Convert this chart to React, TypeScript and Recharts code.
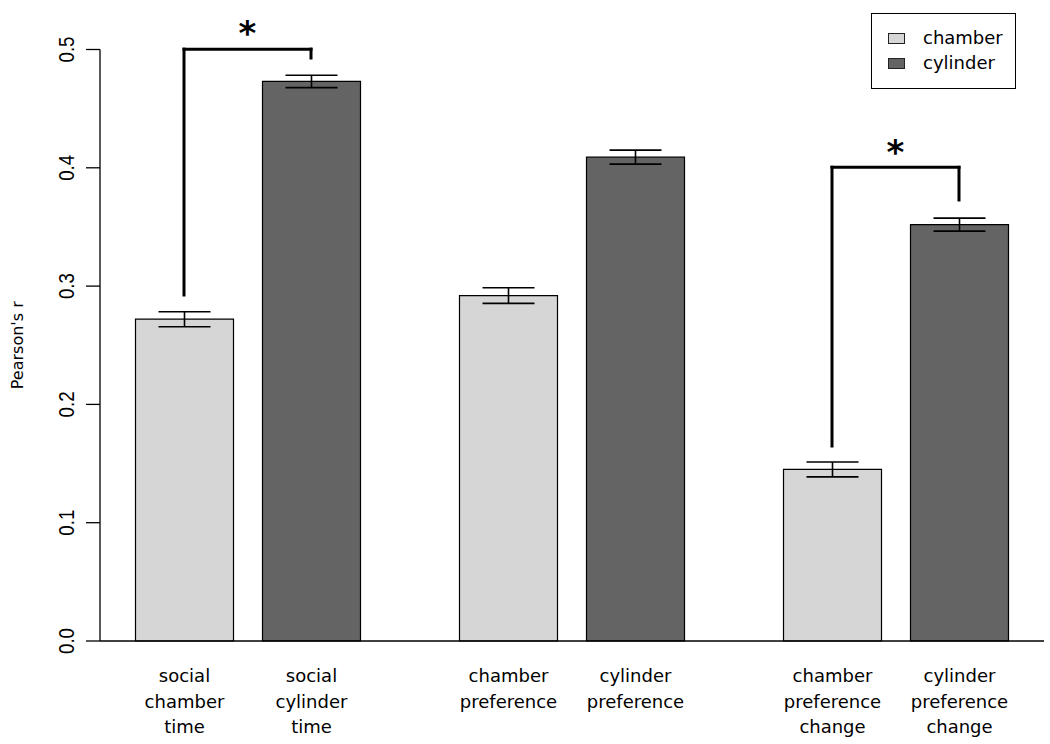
import React from 'react';
import {
  ComposedChart,
  Bar,
  XAxis,
  YAxis,
  ErrorBar,
  LabelList,
  ReferenceLine,
  ReferenceDot,
  Legend,
} from 'recharts';

// ---------- data ----------
const groups = ['social time', 'preference', 'preference change'];
const chamberValues = [0.272, 0.292, 0.145];
const cylinderValues = [0.473, 0.409, 0.352];
const chamberErrors = [0.0063, 0.0066, 0.0063];
const cylinderErrors = [0.0052, 0.0059, 0.0055];
const chamberLabels = ['social\nchamber\ntime', 'chamber\npreference', 'chamber\npreference\nchange'];
const cylinderLabels = ['social\ncylinder\ntime', 'cylinder\npreference', 'cylinder\npreference\nchange'];
const seriesNames = ['chamber', 'cylinder'];
const yTicks = [0, 0.1, 0.2, 0.3, 0.4, 0.5];
const yAxisLabel = "Pearson's r";

// significance brackets (values on the Pearson's r scale)
const bracketGroups = [0, 2];
const bracketLeftBottoms = [0.2925, 0.1648];
const bracketTops = [0.5003, 0.4004];
const bracketRightBottoms = [0.4928, 0.3728];
const starValues = [0.518, 0.4176];
const starLabels = ['*', '*'];

// ---------- style / layout ----------
const W = 1050;
const H = 744;
const MARGIN = { top: 49.5, right: 6, bottom: 0, left: 0 };
const Y_AXIS_W = 100;
const X_AXIS_H = 103;
const X_PAD = { left: -14.5, right: -13.5 };
const BAR_SIZE = 98;
const BAR_GAP = 29;
const CHAMBER_FILL = '#d6d6d6';
const CYLINDER_FILL = '#646464';
const FONT = "'DejaVu Sans', sans-serif";

const N = groups.length;
const PLOT_W = W - MARGIN.left - MARGIN.right - Y_AXIS_W;
const BAND = (PLOT_W - X_PAD.left - X_PAD.right) / N;
const GROUP_PAD = (BAND - (2 * BAR_SIZE + BAR_GAP)) / 2;
// position on a helper numeric axis whose domain is [0, N-1] spanning the same range
const barCenterUnit = (g: number, i: number) =>
  ((g + (GROUP_PAD + BAR_SIZE / 2 + i * (BAR_SIZE + BAR_GAP)) / BAND) * (N - 1)) / N;

const data = groups.map((g, k) => ({
  group: g,
  chamber: chamberValues[k],
  cylinder: cylinderValues[k],
  chamberErr: chamberErrors[k],
  cylinderErr: cylinderErrors[k],
  chamberLabel: chamberLabels[k],
  cylinderLabel: cylinderLabels[k],
}));

const BarLabel = (props: any) => {
  const vb = props.viewBox || props;
  const x = vb.x ?? props.x;
  const y = vb.y ?? props.y;
  const width = vb.width ?? props.width;
  const height = vb.height ?? props.height;
  const lines = String(props.value).split('\n');
  const cx = x + width / 2;
  const base = y + height + 41;
  return (
    <text x={cx} y={base} textAnchor="middle" fontFamily={FONT} fontSize={18} fill="#000">
      {lines.map((l, i) => (
        <tspan key={i} x={cx} y={base + i * 25.5}>
          {l}
        </tspan>
      ))}
    </text>
  );
};

const YTick = (props: any) => {
  const { x, y, payload } = props;
  const tx = x - 18;
  return (
    <text
      x={tx}
      y={y}
      transform={`rotate(-90, ${tx}, ${y})`}
      textAnchor="middle"
      dy="0.36em"
      fontFamily="'Liberation Sans', Arial, sans-serif"
      fontSize={22}
      textLength={26}
      lengthAdjust="spacingAndGlyphs"
      fill="#000"
    >
      {Number(payload.value).toFixed(1)}
    </text>
  );
};

const YLabel = (props: any) => {
  const vb = props.viewBox || { x: 0, y: 0, width: 0, height: 0 };
  const tx = vb.x + 17;
  const ty = vb.y + vb.height / 2;
  return (
    <text
      x={tx}
      y={ty}
      transform={`rotate(-90, ${tx}, ${ty})`}
      textAnchor="middle"
      dy="0.35em"
      fontFamily={FONT}
      fontSize={16}
      fill="#000"
    >
      {yAxisLabel}
    </text>
  );
};

const LegendBox = (props: any) => {
  const payload = (props.payload && props.payload.length ? props.payload : seriesNames.map((n, i) => ({
    value: n,
    color: i === 0 ? CHAMBER_FILL : CYLINDER_FILL,
  }))) as any[];
  return (
    <div
      style={{
        position: 'relative',
        width: 145,
        height: 76,
        border: '1px solid #000',
        boxSizing: 'border-box',
        background: '#fff',
      }}
    >
      {payload.map((e, i) => (
        <React.Fragment key={i}>
          <div
            style={{
              position: 'absolute',
              left: 16,
              top: 19 + i * 25,
              width: 17,
              height: 11,
              boxSizing: 'border-box',
              border: '1px solid #222',
              background: e.color || (e.payload && e.payload.fill),
            }}
          />
          <div
            style={{
              position: 'absolute',
              left: 51,
              top: 14 + i * 25,
              height: 20,
              lineHeight: '20px',
              fontFamily: FONT,
              fontSize: 18,
              color: '#000',
              whiteSpace: 'nowrap',
            }}
          >
            {e.value}
          </div>
        </React.Fragment>
      ))}
    </div>
  );
};

const Star = (label: string) => (p: any) => (
  <text
    x={p.cx}
    y={p.cy + 17}
    textAnchor="middle"
    fontFamily={FONT}
    fontWeight="bold"
    fontSize={34}
    fill="#000"
  >
    {label}
  </text>
);

export default function App() {
  const brackets = bracketGroups.map((g, k) => {
    const xl = barCenterUnit(g, 0);
    const xr = barCenterUnit(g, 1);
    return { k, xl, xr, mid: (xl + xr) / 2 };
  });
  return (
    <div style={{ position: 'absolute', left: 0, top: 0, width: W, height: H, background: '#fff' }}>
      <ComposedChart width={W} height={H} data={data} margin={MARGIN} barGap={BAR_GAP}>
        <XAxis
          dataKey="group"
          type="category"
          height={X_AXIS_H}
          padding={X_PAD}
          tick={false}
          tickLine={false}
          axisLine={{ stroke: '#000', strokeWidth: 1.3 }}
        />
        <XAxis
          xAxisId="num"
          type="number"
          domain={[0, N - 1]}
          allowDataOverflow
          hide
          padding={X_PAD}
        />
        <YAxis
          width={Y_AXIS_W}
          domain={[0, 0.5]}
          ticks={yTicks}
          interval={0}
          tickSize={14}
          tick={<YTick />}
          axisLine={{ stroke: '#000', strokeWidth: 1.3 }}
          tickLine={{ stroke: '#000', strokeWidth: 1.3 }}
          label={{ content: <YLabel /> } as any}
        />
        <Legend
          layout="vertical"
          align="center"
          verticalAlign="middle"
          content={<LegendBox />}
          wrapperStyle={{ position: 'absolute', left: 871, top: 13, width: 145, height: 76 }}
        />
        <Bar
          dataKey="chamber"
          name={seriesNames[0]}
          fill={CHAMBER_FILL}
          stroke="#000"
          strokeWidth={1.2}
          barSize={BAR_SIZE}
          isAnimationActive={false}
        >
          <ErrorBar dataKey="chamberErr" width={26} stroke="#000" strokeWidth={1.6} direction="y" />
          <LabelList dataKey="chamberLabel" content={<BarLabel />} />
        </Bar>
        <Bar
          dataKey="cylinder"
          name={seriesNames[1]}
          fill={CYLINDER_FILL}
          stroke="#000"
          strokeWidth={1.2}
          barSize={BAR_SIZE}
          isAnimationActive={false}
        >
          <ErrorBar dataKey="cylinderErr" width={26} stroke="#000" strokeWidth={1.6} direction="y" />
          <LabelList dataKey="cylinderLabel" content={<BarLabel />} />
        </Bar>
        {brackets.map((b) => (
          <ReferenceLine
            key={`l${b.k}`}
            xAxisId="num"
            ifOverflow="visible"
            segment={[
              { x: b.xl, y: bracketLeftBottoms[b.k] },
              { x: b.xl, y: bracketTops[b.k] },
            ]}
            stroke="#000"
            strokeWidth={3}
            strokeLinecap="square"
          />
        ))}
        {brackets.map((b) => (
          <ReferenceLine
            key={`t${b.k}`}
            xAxisId="num"
            ifOverflow="visible"
            segment={[
              { x: b.xl, y: bracketTops[b.k] },
              { x: b.xr, y: bracketTops[b.k] },
            ]}
            stroke="#000"
            strokeWidth={3}
            strokeLinecap="square"
          />
        ))}
        {brackets.map((b) => (
          <ReferenceLine
            key={`r${b.k}`}
            xAxisId="num"
            ifOverflow="visible"
            segment={[
              { x: b.xr, y: bracketTops[b.k] },
              { x: b.xr, y: bracketRightBottoms[b.k] },
            ]}
            stroke="#000"
            strokeWidth={3}
            strokeLinecap="square"
          />
        ))}
        {brackets.map((b) => (
          <ReferenceDot
            key={`s${b.k}`}
            xAxisId="num"
            x={b.mid}
            y={starValues[b.k]}
            r={0}
            ifOverflow="visible"
            shape={Star(starLabels[b.k])}
          />
        ))}
      </ComposedChart>
    </div>
  );
}
